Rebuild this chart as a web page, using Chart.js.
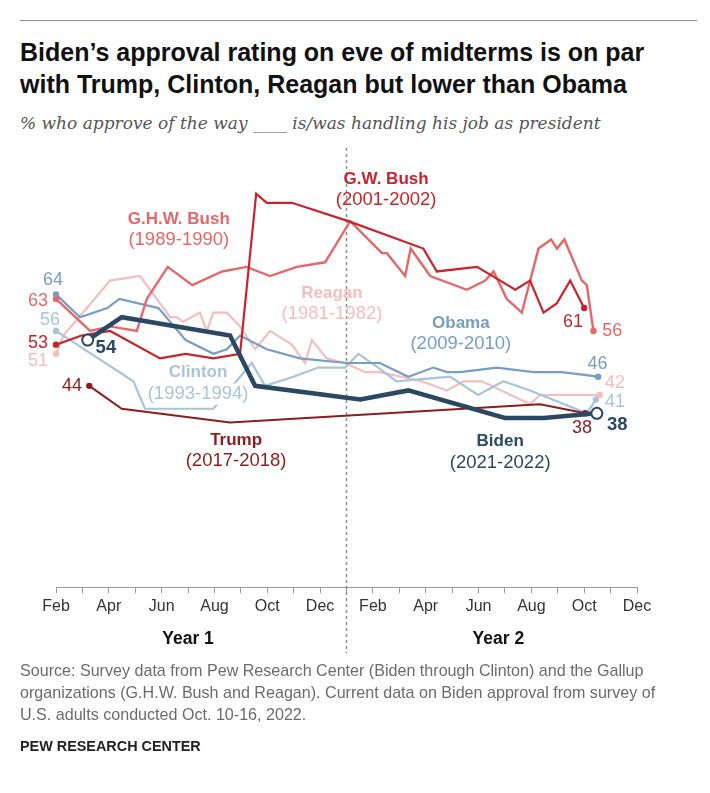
<!DOCTYPE html>
<html>
<head>
<meta charset="utf-8">
<script src="https://cdn.jsdelivr.net/npm/chart.js@4.4.0/dist/chart.umd.min.js"></script>
<style>
  body { margin: 0; background: #fff; width: 710px; height: 793px; position: relative; overflow: hidden; }
  #chart { position: absolute; left: 0; top: 0; }
  .rule { position: absolute; left: 20px; top: 20px; width: 677px; height: 1px; background: #8c8c8c; }
  h1 { position: absolute; left: 20px; top: 36px; margin: 0; font: bold 25px/32px 'Liberation Sans', sans-serif; color: #111; }
  .sub { position: absolute; left: 20px; top: 113px; margin: 0; font: italic 17px 'DejaVu Serif', serif; color: #555; }
  .src { position: absolute; left: 20px; top: 659px; margin: 0; font: 16.1px/22px 'Liberation Sans', sans-serif; color: #6b6b6b; }
  .logo { position: absolute; left: 20px; top: 738px; font: bold 14.4px 'Liberation Sans', sans-serif; color: #222; }
</style>
</head>
<body>
<div class="rule"></div>
<h1>Biden’s approval rating on eve of midterms is on par<br>with Trump, Clinton, Reagan but lower than Obama</h1>
<p class="sub">% who approve of the way ____ is/was handling his job as president</p>
<canvas id="chart" width="710" height="793"></canvas>
<p class="src">Source: Survey data from Pew Research Center (Biden through Clinton) and the Gallup<br>organizations (G.H.W. Bush and Reagan). Current data on Biden approval from survey of<br>U.S. adults conducted Oct. 10-16, 2022.</p>
<div class="logo">PEW RESEARCH CENTER</div>
<script>
// months counted from Jan of year 1 = 1, so Feb = 2 ... Dec of year 2 = 24
const monthLabels = ['Feb', 'Apr', 'Jun', 'Aug', 'Oct', 'Dec', 'Feb', 'Apr', 'Jun', 'Aug', 'Oct', 'Dec'];
const yearBreak = 13;

const bidenX = [3.2, 4.49, 8.59, 9.54, 13.52, 15.34, 19.0, 20.46, 22.48];
const bidenY = [54, 59, 55, 44, 41, 43, 37, 37, 38];

const gwBushX = [2.0, 2.97, 4.05, 5.94, 6.91, 7.96, 8.97, 9.58, 9.98, 10.93, 13.07, 15.91, 16.42, 17.94, 18.82, 19.39, 19.95, 20.46, 20.96, 21.47, 22.0];
const gwBushY = [53, 55, 56, 50, 51, 50, 51, 86, 84, 84, 80, 74, 69, 70, 67, 65, 67, 60, 62, 67, 61];

const ghwBushX = [2.0, 3.29, 4.05, 5.06, 5.44, 6.23, 7.16, 8.3, 9.22, 10.1, 11.12, 12.19, 13.14, 14.34, 14.53, 15.22, 15.43, 16.17, 17.56, 18.25, 18.57, 19.07, 19.64, 20.27, 20.75, 20.97, 21.25, 21.91, 22.1, 22.35];
const ghwBushY = [63, 56, 57, 56, 63, 70, 66, 69, 70, 68, 70, 71, 80, 73, 73, 68, 74, 68, 65, 67, 69, 63, 60, 74, 76, 74, 76, 67, 66, 56];

const obamaX = [2.0, 2.91, 3.94, 4.4, 5.88, 6.91, 7.96, 8.47, 8.97, 9.98, 11.24, 13.0, 14.26, 15.34, 16.29, 16.8, 17.3, 18.69, 20.08, 21.15, 22.53];
const obamaY = [64, 59, 61, 63, 61, 54, 51, 52, 55, 52, 50, 49, 49, 46, 48, 47, 47, 48, 47, 47, 46];

const clintonX = [2.0, 4.93, 5.37, 7.96, 9.41, 9.92, 10.99, 11.93, 12.95, 13.45, 14.2, 14.9, 16.92, 17.98, 18.94, 19.95, 22.1, 22.44];
const clintonY = [56, 45, 39, 39, 49, 44, 46, 48, 48, 51, 48, 45, 46, 42, 45, 43, 38, 41];

const reaganX = [2.0, 2.28, 4.05, 5.18, 6.32, 6.57, 6.82, 7.45, 7.71, 7.96, 8.47, 8.97, 9.54, 10.11, 10.93, 11.43, 11.69, 12.25, 12.95, 13.7, 14.27, 15.85, 16.8, 17.43, 18.13, 19.95, 20.33, 22.58];
const reaganY = [51, 55, 67, 68, 59, 59, 58, 60, 56, 60, 60, 57, 52, 56, 53, 49, 54, 50, 49, 47, 47, 45, 43, 45, 45, 40, 42, 42];

const trumpX = [3.26, 4.49, 8.59, 20.33, 22.04];
const trumpY = [44, 39, 36, 40, 38];

const colors = {
  biden: '#2b4862',
  gwBush: '#c8232c',
  ghwBush: '#e4676a',
  obama: '#769dc2',
  clinton: '#a8c4d9',
  reagan: '#f5bdbd',
  trump: '#8c1d1d'
};

const sans = "'Liberation Sans', sans-serif";

// name labels and end values, placed in data units
const seriesLabels = [
  { name: 'G.H.W. Bush', years: '(1989-1990)', x: 6.65, y: 80.5, color: colors.ghwBush },
  { name: 'G.W. Bush', years: '(2001-2002)', x: 14.5, y: 89.2, color: colors.gwBush },
  { name: 'Reagan', years: '(1981-1982)', x: 12.45, y: 64.3, color: colors.reagan },
  { name: 'Obama', years: '(2009-2010)', x: 17.33, y: 57.7, color: colors.obama },
  { name: 'Clinton', years: '(1993-1994)', x: 7.38, y: 46.9, color: colors.clinton, mask: true },
  { name: 'Trump', years: '(2017-2018)', x: 8.82, y: 32.2, color: colors.trump },
  { name: 'Biden', years: '(2021-2022)', x: 18.82, y: 31.8, color: colors.biden }
];

const valueLabels = [
  { text: '64', x: 1.89, y: 67.1, color: colors.obama },
  { text: '63', x: 1.32, y: 62.5, color: colors.ghwBush },
  { text: '56', x: 1.77, y: 58.4, color: colors.clinton },
  { text: '53', x: 1.32, y: 53.4, color: colors.gwBush },
  { text: '51', x: 1.32, y: 49.4, color: colors.reagan },
  { text: '44', x: 2.61, y: 44.0, color: colors.trump },
  { text: '54', x: 3.89, y: 52.3, color: colors.biden, bold: true },
  { text: '61', x: 21.58, y: 57.9, color: colors.gwBush },
  { text: '56', x: 23.06, y: 56.0, color: colors.ghwBush },
  { text: '46', x: 22.5, y: 48.8, color: colors.obama },
  { text: '42', x: 23.17, y: 44.6, color: colors.reagan },
  { text: '41', x: 23.17, y: 40.5, color: colors.clinton },
  { text: '38', x: 21.92, y: 34.8, color: colors.trump },
  { text: '38', x: 23.25, y: 35.4, color: colors.biden, bold: true }
];

function toPoints(xs, ys) {
  return xs.map((x, i) => ({ x: x, y: ys[i] }));
}

function endDots(r) {
  return ctx => (ctx.dataIndex === 0 || ctx.dataIndex === ctx.dataset.data.length - 1) ? r : 0;
}

function series(label, xs, ys, color, width) {
  return {
    label: label,
    data: toPoints(xs, ys),
    borderColor: color,
    backgroundColor: color,
    borderWidth: width,
    pointRadius: endDots(3.2),
    pointBorderWidth: 0,
    pointBackgroundColor: color,
    tension: 0,
    clip: false
  };
}

const overlay = {
  id: 'overlay',
  beforeDatasetsDraw(chart) {
    const { ctx, scales: { x, y }, chartArea } = chart;
    const px = x.getPixelForValue(yearBreak);
    ctx.save();
    ctx.strokeStyle = '#8a8a8a';
    ctx.lineWidth = 1.5;
    ctx.setLineDash([3, 3]);
    ctx.beginPath();
    ctx.moveTo(px, y.getPixelForValue(96));
    ctx.lineTo(px, chartArea.bottom + 66);
    ctx.stroke();
    ctx.restore();
  },
  afterDraw(chart) {
    const { ctx, scales: { x, y }, chartArea } = chart;
    ctx.save();
    ctx.textAlign = 'center';
    ctx.textBaseline = 'middle';
    seriesLabels.forEach(l => {
      const px = x.getPixelForValue(l.x);
      const py = y.getPixelForValue(l.y);
      ctx.font = 'bold 17px ' + sans;
      if (l.mask) {
        const w = ctx.measureText(l.years).width + 4;
        ctx.fillStyle = '#fff';
        ctx.fillRect(px - w / 2, py + 11, w, 21);
      }
      ctx.fillStyle = l.color;
      ctx.fillText(l.name, px, py);
      ctx.font = '18.5px ' + sans;
      ctx.fillText(l.years, px, py + 21);
    });
    valueLabels.forEach(l => {
      ctx.fillStyle = l.color;
      ctx.font = (l.bold ? 'bold 18.5px ' : '18px ') + sans;
      ctx.fillText(l.text, x.getPixelForValue(l.x), y.getPixelForValue(l.y));
    });
    ctx.fillStyle = '#111';
    ctx.font = 'bold 17.5px ' + sans;
    ctx.fillText('Year 1', x.getPixelForValue(7), chartArea.bottom + 52);
    ctx.fillText('Year 2', x.getPixelForValue(18.75), chartArea.bottom + 52);
    ctx.restore();
  }
};

const biden = series('Biden', bidenX, bidenY, colors.biden, 4.5);
biden.pointRadius = endDots(5.5);
biden.pointBackgroundColor = '#fff';
biden.pointBorderColor = colors.biden;
biden.pointBorderWidth = 2;

new Chart(document.getElementById('chart'), {
  type: 'line',
  data: {
    datasets: [
      biden,
      series('Trump', trumpX, trumpY, colors.trump, 2),
      series('G.W. Bush', gwBushX, gwBushY, colors.gwBush, 2.2),
      series('G.H.W. Bush', ghwBushX, ghwBushY, colors.ghwBush, 2.4),
      series('Obama', obamaX, obamaY, colors.obama, 2.2),
      series('Clinton', clintonX, clintonY, colors.clinton, 2.2),
      series('Reagan', reaganX, reaganY, colors.reagan, 2.2)
    ]
  },
  options: {
    responsive: false,
    animation: false,
    events: [],
    layout: { padding: { left: 56, right: 73, top: 129.6, bottom: 165.8 } },
    plugins: { legend: { display: false }, tooltip: { enabled: false } },
    scales: {
      x: {
        type: 'linear',
        min: 2,
        max: 24,
        afterFit: scale => { scale.height = 40; },
        border: { display: true, color: '#9a9a9a', width: 1 },
        grid: { drawOnChartArea: false, drawTicks: true, tickLength: 6, color: '#9a9a9a' },
        ticks: {
          stepSize: 1,
          autoSkip: false,
          maxRotation: 0,
          padding: 4,
          color: '#333',
          font: { family: sans, size: 16 },
          callback: v => (v % 2 === 0 ? monthLabels[(v - 2) / 2] : '')
        }
      },
      y: { display: false, min: 0, max: 100 }
    }
  },
  plugins: [overlay]
});
</script>
</body>
</html>
